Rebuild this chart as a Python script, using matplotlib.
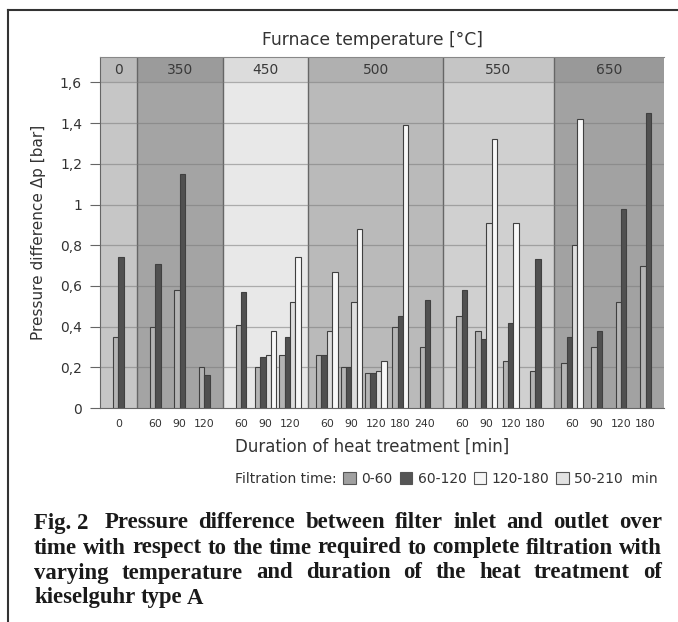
import numpy as np
import matplotlib
matplotlib.use('Agg')
import matplotlib.pyplot as plt
from matplotlib.patches import Patch
from matplotlib.lines import Line2D

nan = np.nan
# furnace temperature regions and the heat-treatment durations inside each
temps = ['0', '350', '450', '500', '550', '650']
durations = [[0], [60, 90, 120], [60, 90, 120], [60, 90, 120, 180, 240], [60, 90, 120, 180], [60, 90, 120, 180]]
region_bg = ['#c6c6c6', '#a4a4a4', '#e8e8e8', '#bababa', '#d0d0d0', '#a2a2a2']

# pressure difference [bar] per filtration-time class, one value per duration cluster (in reading order)
p_0_60    = [0.35, 0.40, 0.58, 0.20, 0.41, 0.20, 0.26, 0.26, 0.20, 0.17, 0.40, 0.30, 0.45, 0.38, 0.23, 0.18, 0.22, 0.30, 0.52, 0.70]
p_60_120  = [0.74, 0.71, 1.15, 0.16, 0.57, 0.25, 0.35, 0.26, 0.20, 0.17, 0.45, 0.53, 0.58, 0.34, 0.42, 0.73, 0.35, 0.38, 0.98, 1.45]
p_50_210  = [nan, nan, nan, nan, nan, 0.26, 0.52, 0.38, 0.52, 0.18, nan, nan, nan, 0.91, nan, nan, 0.80, nan, nan, nan]
p_120_180 = [nan, nan, nan, nan, nan, 0.38, 0.74, 0.67, 0.88, 0.23, 1.39, nan, nan, 1.32, 0.91, nan, 1.42, nan, nan, nan]

series = [('0-60', p_0_60, '#b4b4b4'), ('60-120', p_60_120, '#505050'),
          ('50-210', p_50_210, '#dedede'), ('120-180', p_120_180, '#f8f8f8')]
legend_order = ['0-60', '60-120', '120-180', '50-210']
legend_col = {'0-60': '#a0a0a0', '60-120': '#555555', '120-180': '#f6f6f6', '50-210': '#e2e2e2'}

W, H = 678, 622
fig = plt.figure(figsize=(W/100, H/100), dpi=100)
ax = fig.add_axes([100/W, 1-408/H, 564/W, 351/H])
YTOP = 1.725; HEAD = 1.6
ax.set_ylim(0, YTOP)

# layout: each region = n clusters + 0.5 units, cluster centres 0.75 in from the left edge
centres, labels, bounds = [], [], [0.0]
for durs in durations:
    x0 = bounds[-1]
    for i, d in enumerate(durs):
        centres.append(x0 + 0.75 + i); labels.append(str(d))
    bounds.append(x0 + len(durs) + 0.5)
ax.set_xlim(0, bounds[-1])

for k, t in enumerate(temps):
    ax.axvspan(bounds[k], bounds[k+1], color=region_bg[k], lw=0, zorder=0)
    ax.axvspan(bounds[k], bounds[k+1], ymin=HEAD/YTOP, color='k', alpha=0.05, lw=0, zorder=0.5)
    ax.text((bounds[k]+bounds[k+1])/2, (HEAD+YTOP)/2, t, ha='center', va='center', fontsize=10, color='#3a3a3a')
for b in bounds[1:-1]:
    ax.axvline(b, color='#666666', lw=1, zorder=1)
for yv in np.arange(0.2, 1.61, 0.2):
    ax.axhline(yv, color='#7a7a7a', lw=0.9, alpha=0.55, zorder=1)

w = 0.22
for c in range(len(centres)):
    present = [(lab, vals[c], col) for lab, vals, col in series if not np.isnan(vals[c])]
    n = len(present)
    for j, (lab, v, col) in enumerate(present):
        ax.bar(centres[c] + (j - (n-1)/2)*w, v, width=w, color=col, edgecolor='#404040', lw=0.8, zorder=3)

ax.set_xticks(centres)
ax.set_xticklabels(labels, fontsize=7.8, color='#333333')
ax.tick_params(axis='x', length=0, pad=8)
yt = np.arange(0, 1.61, 0.2)
ax.set_yticks(yt)
ax.set_yticklabels([('%g' % round(v, 1)).replace('.', ',') for v in yt], fontsize=10, color='#333333')
ax.tick_params(axis='y', length=7, color='#666666', pad=6)
ax.spines['right'].set_visible(False)
ax.spines['top'].set_color('#888888')
ax.spines['left'].set_color('#666666')
ax.spines['bottom'].set_color('#666666')

ax.set_ylabel('Pressure difference \u0394p [bar]', fontsize=11, color='#333333', labelpad=10)
fig.text(373/W, 1-40/H, 'Furnace temperature [\u00b0C]', ha='center', va='center', fontsize=12.3, color='#333333')
fig.text(372/W, 1-447/H, 'Duration of heat treatment [min]', ha='center', va='center', fontsize=12, color='#333333')

# legend: squares + labels ending near the right, "Filtration time:" in front of it
r = fig.canvas.get_renderer()
handles = [Patch(facecolor=legend_col[l], edgecolor='#555555', lw=0.8) for l in legend_order]
leg_labels = legend_order[:-1] + [legend_order[-1] + '  min']
leg = fig.legend(handles, leg_labels, ncol=4, loc='center right', bbox_to_anchor=(658/W, 1-479/H), frameon=False,
                 fontsize=10, handlelength=0.9, handleheight=0.9, handletextpad=0.4, columnspacing=0.5,
                 labelcolor='#333333', borderpad=0, borderaxespad=0)
lx = leg.get_window_extent(r).x0
fig.text((lx - 7)/W, 1-479/H, 'Filtration time:', ha='right', va='center', fontsize=10, color='#333333')

# frame
fig.add_artist(Line2D([8/W, 8/W], [0, 1-10/H], transform=fig.transFigure, color='#333333', lw=1.5))
fig.add_artist(Line2D([8/W, 1], [1-10/H, 1-10/H], transform=fig.transFigure, color='#333333', lw=1.5))

# justified bold caption
caption = [['Fig. 2 ', 'Pressure', 'difference', 'between', 'filter', 'inlet', 'and', 'outlet', 'over'],
           ['time', 'with', 'respect', 'to', 'the', 'time', 'required', 'to', 'complete', 'filtration', 'with'],
           ['varying', 'temperature', 'and', 'duration', 'of', 'the', 'heat', 'treatment', 'of'],
           ['kieselguhr', 'type', 'A']]
x_left, x_right = 34, 662
cap_kw = dict(fontweight='bold', family='Liberation Serif', va='center', color='#1a1a1a')
probe = fig.text(0, 0, ' '.join(caption[1]), fontsize=10, **cap_kw)
cap_fs = 10 * (x_right - x_left) / probe.get_window_extent(r).width
probe.remove()
for li, words in enumerate(caption):
    y = 1 - (523 + 25*li)/H
    texts = [fig.text(0, y, wd, fontsize=cap_fs, **cap_kw) for wd in words]
    widths = [t.get_window_extent(r).width for t in texts]
    last = li == len(caption) - 1
    gap = cap_fs*0.3 if last else (x_right - x_left - sum(widths)) / (len(words) - 1)
    x = x_left
    for t, wd in zip(texts, widths):
        t.set_x(x/W); x += wd + gap

fig.savefig('out.png', dpi=100)
